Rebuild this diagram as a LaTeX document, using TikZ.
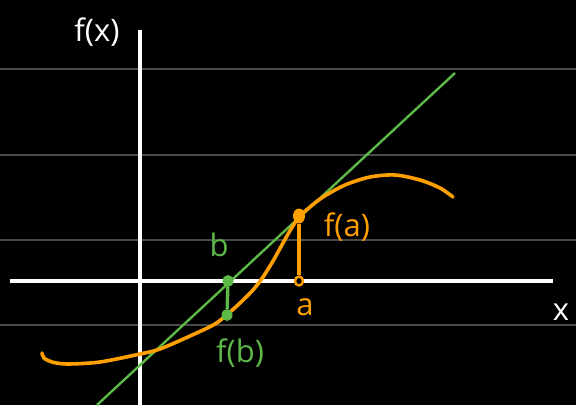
\documentclass[tikz,border=0pt]{standalone}
\usepackage{fontspec}
\setmainfont{Open Sans}
\usetikzlibrary{positioning, shapes.geometric}
\definecolor{curve}{HTML}{FFA000}
\definecolor{tangent}{HTML}{5DB847}
\definecolor{grid}{HTML}{4A4A4A}

\begin{document}
\begin{tikzpicture}[x=1pt, y=-1pt, font=\fontsize{31}{33}\selectfont,
    gridline/.style={grid, line width=1.8pt},
    axis/.style={white, line width=3.2pt},
    dot/.style={ellipse, fill=#1, inner sep=0pt, minimum width=11pt, minimum height=12pt},
    ring/.style={ellipse, draw=#1, fill=black, line width=2.4pt, inner sep=0pt, minimum width=8pt, minimum height=9pt},
    lab/.style={inner sep=0pt}]

  \fill[black] (0,0) rectangle (576,405);
  \useasboundingbox (0,0) rectangle (576,405);

  \foreach \y in {69,155,240,325}
    \draw[gridline] (0,\y) -- (576,\y);

  % axes
  \coordinate (xl) at (10,281);
  \coordinate (xr) at (553,281);
  \coordinate (yb) at (140,405);
  \coordinate (yt) at (140,30);
  \draw[axis] (xl) -- (xr);
  \draw[axis] (yb) -- (yt);

  % tangent line and curve
  \coordinate (tl) at (97,405);
  \coordinate (tr) at (455,73);
  \draw[tangent, line width=2.4pt] (tl) -- (tr);
  \draw[curve, line width=3.6pt, line cap=round] plot[smooth, tension=0.5] coordinates {
    (42,353) (44,358) (52,362) (67,364) (100,362) (140,354) (160,349) (190,336)
    (215,324) (230,312) (240,303) (253,290) (263,277) (273,261) (283,243) (291,229)
    (299,217) (310,207) (323,197) (345,185) (370,177) (395,175) (420,180) (440,188) (453,197)};

  \node[dot=curve, minimum width=12pt, minimum height=15pt] (fa) at (299,216) {};
  \node[ring=curve] (a) at (299,281) {};
  \node[dot=tangent] (b) at (228,281) {};
  \node[dot=tangent] (fb) at (227,315) {};

  \draw[curve, line width=3.4pt] (fa) -- (a);
  \draw[tangent, line width=3.4pt] (b) -- (fb);

  \node[lab, white] (fxlab) at (97,32) {f(x)};
  \node[lab, white] (xlab) at (561,312) {x};
  \node[lab, tangent] (blab) at (219,245) {b};
  \node[lab, tangent] (fblab) at (240,353) {f(b)};
  \node[lab, curve] (falab) at (347,227) {f(a)};
  \node[lab, curve] (alab) at (305,307) {a};
\end{tikzpicture}
\end{document}
